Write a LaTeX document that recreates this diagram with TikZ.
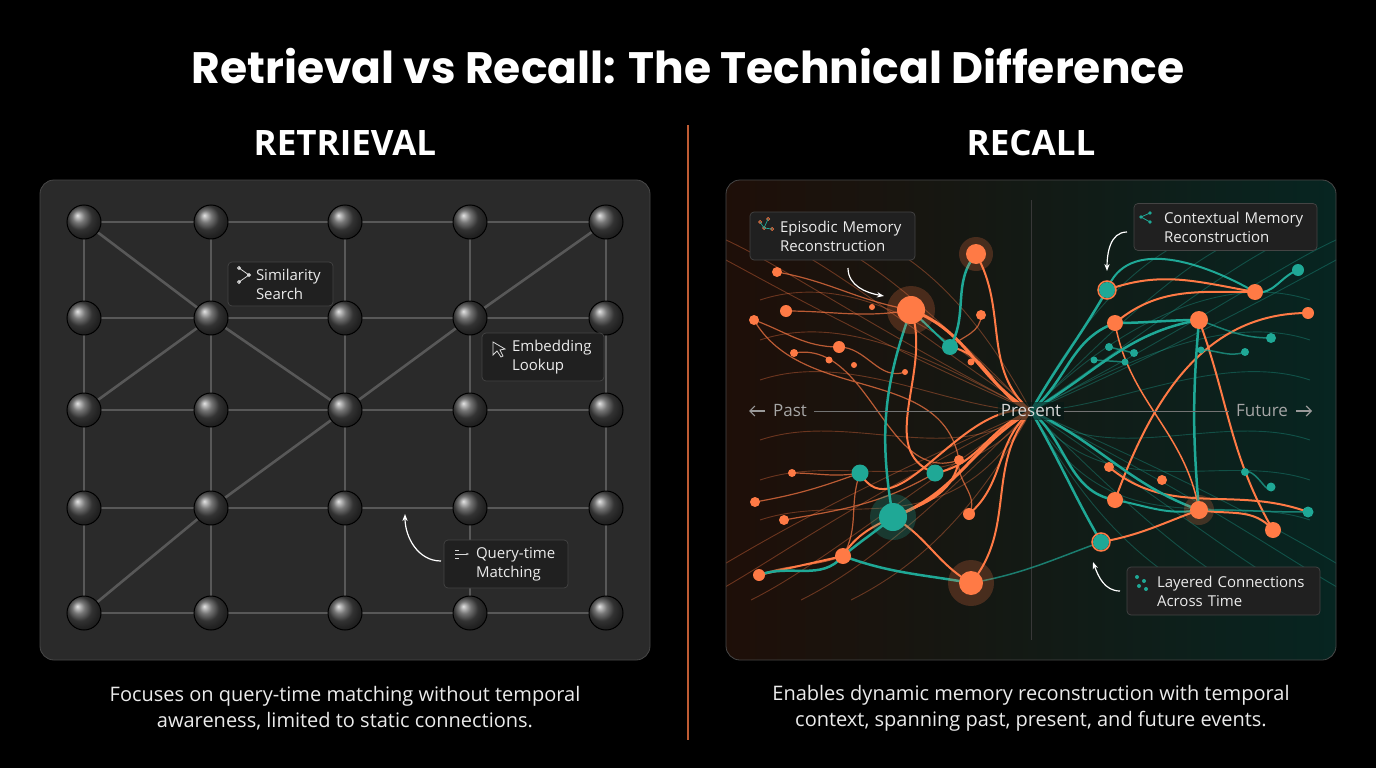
\documentclass[tikz,border=0pt]{standalone}
\usepackage{fontspec}
\setmainfont{Open Sans}
\newfontfamily\titlefont{Poppins}
\usetikzlibrary{arrows.meta}
\definecolor{bg}{HTML}{000000}
\definecolor{panel}{HTML}{2A2A2A}
\definecolor{orng}{HTML}{FF7A45}
\definecolor{teal}{HTML}{1FA896}
\definecolor{edge}{HTML}{585858}
\definecolor{lbl}{HTML}{202020}
\definecolor{lborder}{HTML}{444444}
\tikzset{
  ball/.style={circle,minimum size=34pt,inner sep=0pt,shading=ball,ball color=black!72,draw=black,line width=1pt},
  gedge/.style={draw=edge,line width=2.6pt},
  lbox/.style={draw=lborder,fill=lbl,rounded corners=4pt,line width=0.7pt,align=left,font=\fontsize{15}{19}\selectfont,text=white!92!black,inner xsep=8pt,inner ysep=4pt},
  callarrow/.style={draw=white,line width=1.2pt,-{Stealth[length=7pt]}},
  on/.style={circle,fill=orng,inner sep=0pt,minimum size=#1},
  tn/.style={circle,fill=teal,inner sep=0pt,minimum size=#1},
  glow/.style={circle,fill=orng,fill opacity=0.22,inner sep=0pt,minimum size=#1},
  tglow/.style={circle,fill=teal,fill opacity=0.25,inner sep=0pt,minimum size=#1},
  oc/.style={draw=orng,line width=#1,line cap=round},
  tc/.style={draw=teal,line width=#1,line cap=round},
  fo/.style={draw=orng,opacity=0.35,line width=0.9pt},
  ft/.style={draw=teal,opacity=0.35,line width=0.9pt},
}
\begin{document}
\begin{tikzpicture}[x=1pt,y=-1pt]
\fill[bg] (0,0) rectangle (1376,768);
\useasboundingbox (0,0) rectangle (1376,768);
\node[text=white,font=\titlefont\bfseries\fontsize{44}{50}\selectfont] (title) at (688,66) {Retrieval vs Recall: The Technical Difference};
\node[text=white,font=\bfseries\fontsize{35}{40}\selectfont] (h1) at (345,143) {RETRIEVAL};
\node[text=white,font=\bfseries\fontsize{35}{40}\selectfont] (h2) at (1031,143) {RECALL};
\draw[orng!75!black,line width=1.5pt] (688,125) coordinate (d1) -- (688,740) coordinate (d2);
% left panel
\fill[panel,rounded corners=14pt,draw=white!28!black,line width=0.8pt] (40,180) rectangle (650,660);
\foreach \c/\x in {0/84,1/211,2/345,3/470,4/606}{
 \foreach \r/\y in {0/222,1/318,2/410,3/508,4/613}{
   \coordinate (g\c\r) at (\x,\y);
 }}
\foreach \r in {0,...,4}{\draw[gedge] (g0\r)--(g1\r)--(g2\r)--(g3\r)--(g4\r);}
\foreach \c in {0,...,4}{\draw[gedge] (g\c0)--(g\c1)--(g\c2)--(g\c3)--(g\c4);}
\draw[gedge] (g00)--(g11)--(g02);
\draw[gedge] (g11)--(g22)--(g31)--(g40);
\draw[gedge] (g22)--(g13)--(g04);
\foreach \c in {0,...,4}{\foreach \r in {0,...,4}{\node[ball] (n\c\r) at (g\c\r) {};}}
\node[lbox,minimum width=105pt,minimum height=44pt,text width=89pt] (ss) at (280.5,284) {\hspace*{20pt}Similarity\\\hspace*{20pt}Search};
\draw[white!85!black,line width=0.8pt] (239,268) circle (1.5) (249,275) circle (1.5) (239,282) circle (1.5) (239,268)--(249,275)--(239,282);
\node[lbox,minimum width=122pt,minimum height=48pt,text width=106pt] (el) at (543,357) {\hspace*{22pt}Embedding\\\hspace*{22pt}Lookup};
\draw[white!85!black,line width=0.8pt] (493,342) -- (493,355) -- (497,351) -- (501,357) -- (503,356) -- (500,350) -- (505,349) -- cycle;
\node[lbox,minimum width=124pt,minimum height=48pt,text width=108pt] (qm) at (506,564) {\hspace*{24pt}Query-time\\\hspace*{24pt}Matching};
\draw[white!85!black,line width=0.8pt,-{Stealth[length=3pt]}] (455,554) -- (469,554);
\draw[white!85!black,line width=0.8pt] (455,550)--(459,550) (455,558)--(459,558);
\coordinate (qa) at (405,514);
\draw[callarrow] (441,561) to[out=180,in=-90] (qa);
\node[text=white!92!black,align=center,font=\fontsize{20}{26}\selectfont] (c1) at (345,708) {Focuses on query-time matching without temporal\\awareness, limited to static connections.};
% right panel
\shade[rounded corners=14pt,left color=orng!12!black,right color=teal!22!black] (726,180) rectangle (1336,660);
\begin{scope}
\clip[rounded corners=14pt] (726,180) rectangle (1336,660);
\draw[white!22!black,line width=1pt] (1031,200) -- (1031,640);
\foreach \w in {60,110,160,210,250}{
 \draw[fo] (1031,411) .. controls (1031-\w,300) and (1031-\w-60,250) .. (1031-\w-120,230);
 \draw[fo] (1031,411) .. controls (1031-\w,520) and (1031-\w-60,570) .. (1031-\w-120,600);
 \draw[ft] (1031,411) .. controls (1031+\w,300) and (1031+\w+60,250) .. (1031+\w+120,230);
 \draw[ft] (1031,411) .. controls (1031+\w,520) and (1031+\w+60,570) .. (1031+\w+120,600);
}
\foreach \y in {300,340,380,440,480,520}{
 \draw[fo] (760,\y) .. controls (850,\y-30) and (950,\y+30) .. (1031,411);
 \draw[ft] (1031,411) .. controls (1110,\y+30) and (1220,\y-30) .. (1310,\y);
}
\end{scope}
\draw[rounded corners=14pt,white!28!black,line width=0.8pt] (726,180) rectangle (1336,660);
\coordinate (pres) at (1031,411);
\foreach \n/\x/\y/\s in {a/976/254/20,b/911/310/28,c/777/272/10,d/786/311/12,e/754/320/10,f/839/347/12,g/981/315/10,h/794/353/8,i/959/460/10,j/792/473/8,k/755/502/10,l/784/520/10,m/843/556/16,n/759/575/12,o/969/514/12,p/971/583/24,q/1115/323/16,r/1199/320/18,s/1255/292/16,t/1308/313/12,u/1109/467/10,v/1162/480/10,w/1115/500/16,x/1199/510/18,y/1273/530/16,s1/872/307/6,s2/829/360/7,s3/854/365/6,s4/905/372/6,s5/971/362/7}{
 \coordinate (o\n) at (\x,\y);}
\foreach \n/\x/\y in {a/1107/290,b/950/347,c/860/473,d/935/473,e/893/517,f/1101/542,g/1298/270,h/1271/338,i/1245/352,j/1245/472,k/1271/487,l/1308/512,m/1109/347,n/1134/353,o/1094/360,p/1125/362,q/1201/350}{
 \coordinate (t\n) at (\x,\y);}
\draw[oc=1.2pt,opacity=0.7] (oc) to[out=-10,in=170] (ob) (od) to[out=0,in=190] (ob) (oe) to[out=-20,in=180] (of) (of) to[out=0,in=200] (os4) (oh) to[out=10,in=200] (oi) (oj) to[out=0,in=190] (tc) (ok) to[out=10,in=200] (tc) (ol) to[out=10,in=210] (td) (on) to[out=20,in=200] (om) (om) to[out=60,in=-110] (tc) (oi) to[out=-100,in=60] (oo) (og) to[out=-90,in=40] (tb) (oe) to[out=-60,in=100] (oi);
\draw[oc=3pt] (pres) to[out=150,in=-20] (ob);
\draw[oc=2pt] (pres) to[out=140,in=-60] (oa);
\draw[oc=2pt] (pres) to[out=160,in=-10] (tb);
\draw[oc=3pt] (pres) to[out=-150,in=20] (te);
\draw[oc=2pt] (pres) to[out=-140,in=40] (oo);
\draw[oc=2pt] (pres) to[out=-160,in=10] (td);
\draw[oc=2pt] (pres) to[out=-130,in=50] (op);
\draw[oc=2pt] (pres) to[out=170,in=-60] (tc);
\draw[oc=2pt] (td) to[out=160,in=-70] (ob);
\draw[oc=2pt] (om) to[out=60,in=-100] (oi);
\draw[oc=2pt] (on) -- (om);
\draw[oc=2pt] (te) to[out=-30,in=150] (op);
\draw[oc=2pt] (tf) to[out=10,in=200] (ox);
\draw[oc=2pt] (ta) to[out=20,in=170] (os);
\draw[oc=2pt] (oq) to[out=40,in=180] (os);
\draw[oc=2pt] (ot) to[out=180,in=70] (ow);
\draw[oc=2pt] (tl) to[out=160,in=-40] (ou);
\draw[oc=2pt] (oy) to[out=120,in=-70] (or);
\draw[oc=2pt] (ox) to[out=-10,in=130] (oy);
\draw[oc=1.5pt] (ox) to[out=100,in=-80] (oq);
\draw[tc=2.5pt] (tb) to[out=60,in=-130] (oa);
\draw[tc=2.5pt] (ob) to[out=-110,in=100] (te);
\draw[tc=2pt] (ob) -- (tb);
\draw[tc=2.5pt] (on) to[out=20,in=-130] (om);
\draw[tc=2.5pt] (om) to[out=40,in=-140] (te);
\draw[tc=2.5pt] (om) to[out=-20,in=170] (op);
\draw[tc=2.5pt] (pres) to[out=60,in=-120] (ta);
\draw[tc=2.5pt] (pres) to[out=40,in=200] (oq);
\draw[tc=2.5pt] (pres) to[out=30,in=190] (or);
\draw[tc=2.5pt] (pres) to[out=-60,in=120] (tf);
\draw[tc=2.5pt] (pres) to[out=-40,in=170] (ow);
\draw[tc=2.5pt] (pres) to[out=-25,in=160] (ox);
\draw[tc=2.5pt] (oq) to[out=0,in=180] (or);
\draw[tc=2.5pt] (or) to[out=-95,in=95] (ox);
\draw[tc=2pt] (ow) to[out=-10,in=190] (ox);
\draw[tc=2pt] (os) to[out=-10,in=200] (tg);
\draw[tc=2pt] (ta) to[out=70,in=150] (os);
\draw[tc=1.5pt,opacity=0.7] (or) to[out=-20,in=180] (th) (tq) to[out=0,in=200] (ti) (tj) to[out=20,in=-100] (tk) (ox) to[out=0,in=180] (tl) (tm)--(tn) (to)--(tp);
\draw[tc=1.5pt,opacity=0.7] (tf) to[out=-160,in=10] (op);
\node[glow=48pt] (gb) at (ob) {};
\node[glow=34pt] (ga) at (oa) {};
\node[glow=46pt] (gp) at (op) {};
\node[tglow=46pt] (ge) at (te) {};
\node[glow=30pt] (gx) at (ox) {};
\foreach \n/\x/\y/\s in {a/976/254/20,b/911/310/28,c/777/272/10,d/786/311/12,e/754/320/10,f/839/347/12,g/981/315/10,h/794/353/8,i/959/460/10,j/792/473/8,k/755/502/10,l/784/520/10,m/843/556/16,n/759/575/12,o/969/514/12,p/971/583/24,q/1115/323/16,r/1199/320/18,s/1255/292/16,t/1308/313/12,u/1109/467/10,v/1162/480/10,w/1115/500/16,x/1199/510/18,y/1273/530/16,s1/872/307/6,s2/829/360/7,s3/854/365/6,s4/905/372/6,s5/971/362/7}{
 \node[on=\s pt] (N\n) at (o\n) {};}
\foreach \n/\s in {a/16,b/16,c/17,d/17,e/28,f/16,g/12,h/10,i/8,j/8,k/9,l/11,m/8,n/8,o/7,p/7,q/7}{
 \node[tn=\s pt] (T\n) at (t\n) {};}
\draw[orng,line width=1.5pt] (ta) circle (9) (tf) circle (9);
% axis
\node[text=white!65!black,font=\fontsize{17}{20}\selectfont] (past) at (790,411) {Past};
\node[text=white!85!black,font=\fontsize{17}{20}\selectfont,inner sep=3pt,fill=black!85!teal,fill opacity=0.6,text opacity=1] (present) at (1031,411) {Present};
\node[text=white!65!black,font=\fontsize{17}{20}\selectfont] (fut) at (1262,411) {Future};
\draw[white!60!black,line width=1.2pt,-{Straight Barb[length=5pt]}] (765,411) -- (749,411);
\draw[white!60!black,line width=1.2pt,-{Straight Barb[length=5pt]}] (1296,411) -- (1312,411);
\draw[white!45!black,line width=1pt] ([xshift=4pt]past.east) -- (present.west);
\draw[white!45!black,line width=1pt] (present.east) -- ([xshift=-4pt]fut.west);
% callouts right
\node[lbox,minimum width=165pt,minimum height=48pt,text width=149pt] (ep) at (832.5,236) {\hspace*{22pt}Episodic Memory\\\hspace*{22pt}Reconstruction};
\draw[orng,line width=0.7pt] (760,222) circle (1.5) (768,219) circle (1.5) (764,228) circle (1.5) (772,229) circle (1.5);
\draw[teal,line width=0.7pt] (760,222)--(764,228)--(768,219) (764,228)--(772,229);
\node[lbox,minimum width=183pt,minimum height=47pt,text width=167pt] (cm) at (1225.5,227) {\hspace*{22pt}Contextual Memory\\\hspace*{22pt}Reconstruction};
\fill[teal] (1141,217) circle (1.8) (1150,213) circle (1.8) (1150,222) circle (1.8);
\draw[teal,line width=0.8pt] (1150,213)--(1141,217)--(1150,222);
\node[lbox,minimum width=193pt,minimum height=48pt,text width=177pt] (lc) at (1223.5,591) {\hspace*{22pt}Layered Connections\\\hspace*{22pt}Across Time};
\fill[teal] (1137,577) circle (2) (1144,581) circle (2) (1139,586) circle (2) (1146,589) circle (2);
\coordinate (epa) at (884,296);
\coordinate (cma) at (1107,271);
\coordinate (lca) at (1093,562);
\draw[callarrow] (848,268) to[out=-90,in=170] (epa);
\draw[callarrow] (1127,232) to[out=180,in=90] (cma);
\draw[callarrow] (1120,591) to[out=180,in=-70] (lca);
\node[text=white!92!black,align=center,font=\fontsize{20}{26}\selectfont] (c2) at (1031,708) {Enables dynamic memory reconstruction with temporal\\context, spanning past, present, and future events.};
\end{tikzpicture}
\end{document}
